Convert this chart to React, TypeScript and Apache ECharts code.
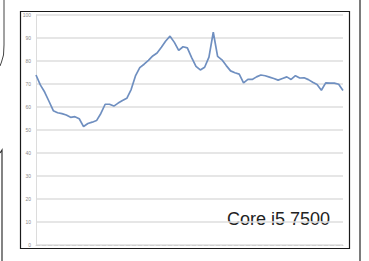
import React, { useEffect, useRef } from "react";
import * as echarts from "echarts";

const samples: string[] = Array.from({ length: 72 }, (_, i) => String(i + 1));
const scores: number[] = [
  73.9, 69.6, 66.5, 62.5, 58.4, 57.5, 57.1, 56.5, 55.5, 55.8,
  54.9, 51.5, 52.8, 53.4, 54.1, 57.2, 61.2, 61.2, 60.4, 61.7,
  62.8, 63.8, 67.6, 73.5, 77.1, 78.6, 80.3, 82.2, 83.5, 86.0,
  88.7, 90.8, 88.1, 84.6, 86.2, 85.7, 81.5, 77.7, 76.1, 77.3,
  81.7, 92.5, 82.0, 80.5, 78.0, 75.7, 74.9, 74.3, 70.5, 72.0,
  72.0, 73.1, 73.9, 73.6, 73.0, 72.4, 71.7, 72.4, 73.1, 72.0,
  73.6, 72.6, 72.7, 71.9, 70.8, 69.8, 67.3, 70.5, 70.4, 70.4,
  69.9, 67.2,
];
const yTicks = { min: 0, max: 100, interval: 10 };
const caption = "Core i5 7500";

export default function App() {
  const ref = useRef<HTMLDivElement>(null);
  useEffect(() => {
    if (!ref.current) return;
    const chart = echarts.init(ref.current, null, { renderer: "svg" });
    chart.setOption({
      animation: false,
      backgroundColor: "#ffffff",
      grid: { left: 36, right: 26, top: 15, bottom: 16 },
      xAxis: {
        type: "category",
        data: samples,
        boundaryGap: false,
        axisLine: { show: true, lineStyle: { color: "#cfcfcf", type: "dashed", width: 1 } },
        axisTick: { show: false },
        axisLabel: { show: false },
        splitLine: { show: false },
      },
      yAxis: {
        type: "value",
        min: yTicks.min,
        max: yTicks.max,
        interval: yTicks.interval,
        axisLine: { show: true, lineStyle: { color: "#dcdcdc", width: 1 } },
        axisTick: { show: false },
        axisLabel: { fontSize: 5, color: "#8a8a8a", margin: 5, fontFamily: "Liberation Sans" },
        splitLine: { show: true, lineStyle: { color: "#dedede", width: 1.5 } },
      },
      series: [
        {
          type: "line",
          data: scores,
          showSymbol: false,
          lineStyle: { color: "#6f8fc0", width: 1.7 },
        },
      ],
      graphic: [
        {
          type: "rect",
          shape: { x: 20.5, y: 11.5, width: 329, height: 237 },
          style: { fill: "none", stroke: "#1a1a1a", lineWidth: 1.2 },
          silent: true,
        },
        {
          type: "line",
          shape: { x1: 360, y1: 0, x2: 360, y2: 261 },
          style: { stroke: "#222", lineWidth: 1.2 },
        },
        {
          type: "polyline",
          shape: { points: [[4, 0], [4, 45], [3.5, 55], [1.5, 62], [0, 66]] },
          style: { stroke: "#444", lineWidth: 1, fill: "none" },
        },
        {
          type: "polyline",
          shape: { points: [[0, 153], [2, 150], [2, 261]] },
          style: { stroke: "#333", lineWidth: 1.2, fill: "none" },
        },
        {
          type: "text",
          x: 227,
          y: 210,
          style: {
            text: caption,
            fontSize: 18,
            fill: "#222",
            fontFamily: "Liberation Sans",
          },
        },
      ],
    });
    return () => chart.dispose();
  }, []);
  return (
    <div
      ref={ref}
      style={{ position: "fixed", left: 0, top: 0, width: 369, height: 261 }}
    />
  );
}
